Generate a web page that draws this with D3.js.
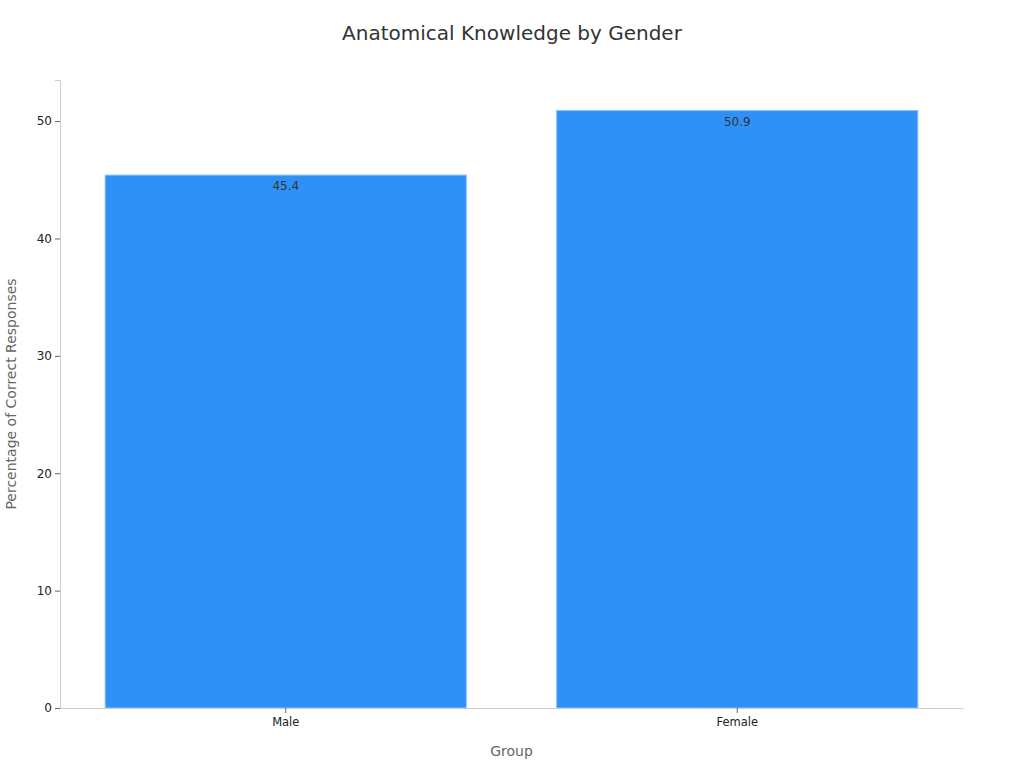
<!DOCTYPE html>
<html>
<head>
<meta charset="utf-8">
<script src="https://cdn.jsdelivr.net/npm/d3@7"></script>
<style>
  html, body { margin: 0; padding: 0; background: #fff; }
  svg { display: block; font-family: "DejaVu Sans", sans-serif; }
</style>
</head>
<body>
<svg id="chart" width="1024" height="768"></svg>
<script>
const categories = ["Male", "Female"];
const values = [45.4, 50.9];
const yTicks = [0, 10, 20, 30, 40, 50];
const title = "Anatomical Knowledge by Gender";
const xTitle = "Group";
const yTitle = "Percentage of Correct Responses";

const svg = d3.select("#chart");
const margin = { left: 60, right: 61, top: 80, bottom: 60 };
const W = 1024, H = 768;

const x = d3.scaleBand()
  .domain(categories)
  .range([margin.left, W - margin.right])
  .paddingInner(0.2)
  .paddingOuter(0.1);

const y = d3.scaleLinear()
  .domain([0, 53.5])
  .range([H - margin.bottom, margin.top]);

// bars
svg.append("g").selectAll("rect")
  .data(categories)
  .join("rect")
  .attr("x", d => x(d))
  .attr("y", (d, i) => y(values[i]))
  .attr("width", x.bandwidth())
  .attr("height", (d, i) => y(0) - y(values[i]))
  .attr("fill", "#2F91F8")
  .attr("stroke", "#8CC3F9")
  .attr("stroke-width", 1);

// value labels
svg.append("g").selectAll("text")
  .data(categories)
  .join("text")
  .attr("x", d => x(d) + x.bandwidth() / 2)
  .attr("y", (d, i) => y(values[i]) + 15)
  .attr("text-anchor", "middle")
  .attr("font-size", 12)
  .attr("fill", "#333")
  .text((d, i) => values[i].toFixed(1));

// y axis
const yAxis = d3.axisLeft(y).tickValues(yTicks).tickSize(5).tickPadding(3);
const gy = svg.append("g")
  .attr("transform", `translate(${margin.left},0)`)
  .call(yAxis);
gy.select(".domain").attr("stroke", "#ccc");
gy.selectAll(".tick line").attr("stroke", "#666");
gy.selectAll(".tick text").attr("font-size", 12).attr("fill", "#222")
  .attr("font-family", "DejaVu Sans, sans-serif");

// x axis
const xAxis = d3.axisBottom(x).tickSize(5).tickSizeOuter(0).tickPadding(5);
const gx = svg.append("g")
  .attr("transform", `translate(0,${H - margin.bottom})`)
  .call(xAxis);
gx.select(".domain").attr("stroke", "#ccc");
gx.selectAll(".tick line").attr("stroke", "#666");
gx.selectAll(".tick text").attr("font-size", 11.5).attr("fill", "#222")
  .attr("font-family", "DejaVu Sans, sans-serif");

// title
svg.append("text")
  .attr("x", W / 2).attr("y", 40)
  .attr("text-anchor", "middle")
  .attr("font-size", 20)
  .attr("fill", "#333")
  .text(title);

// axis titles
svg.append("text")
  .attr("x", (margin.left + W - margin.right) / 2).attr("y", 756)
  .attr("text-anchor", "middle")
  .attr("font-size", 14)
  .attr("fill", "#666")
  .text(xTitle);

svg.append("text")
  .attr("transform", `translate(16,${(margin.top + H - margin.bottom) / 2}) rotate(-90)`)
  .attr("text-anchor", "middle")
  .attr("font-size", 14)
  .attr("fill", "#666")
  .text(yTitle);
</script>
</body>
</html>
